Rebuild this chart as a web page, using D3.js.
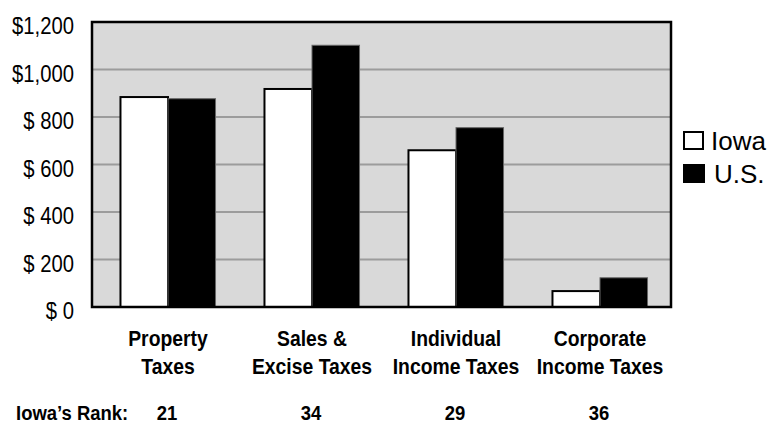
<!DOCTYPE html>
<html>
<head>
<meta charset="utf-8">
<script src="https://cdn.jsdelivr.net/npm/d3@7"></script>
<style>
  body { margin: 0; background: #fff; }
  text { font-family: "Liberation Sans", Arial, sans-serif; }
</style>
</head>
<body>
<div id="chart"></div>
<script>
// data
const categories = [["Property", "Taxes"], ["Sales &", "Excise Taxes"], ["Individual", "Income Taxes"], ["Corporate", "Income Taxes"]];
const series = ["Iowa", "U.S."];
const iowaValues = [884, 918, 660, 67];
const usValues = [877, 1102, 755, 123];
const ranks = [21, 34, 29, 36];
const yTicks = [0, 200, 400, 600, 800, 1000, 1200];

const width = 781, height = 425;
const plot = { left: 92, right: 671, top: 22, bottom: 307 };
const squeeze = 0.88;

const svg = d3.select("#chart").append("svg")
  .attr("width", width)
  .attr("height", height);

const y = d3.scaleLinear().domain([0, 1200]).range([plot.bottom, plot.top]);

const x0 = d3.scaleBand()
  .domain(d3.range(categories.length))
  .range([96, 672])
  .paddingInner(0.34)
  .paddingOuter(0.17);

const x1 = d3.scaleBand()
  .domain(series)
  .range([0, x0.bandwidth()]);

// plot background
svg.append("rect")
  .attr("x", plot.left).attr("y", plot.top)
  .attr("width", plot.right - plot.left)
  .attr("height", plot.bottom - plot.top)
  .attr("fill", "#d9d9d9");

// gridlines
svg.append("g")
  .selectAll("line")
  .data(yTicks.filter(d => d > 0 && d < 1200))
  .enter().append("line")
  .attr("x1", plot.left).attr("x2", plot.right)
  .attr("y1", d => y(d)).attr("y2", d => y(d))
  .attr("stroke", "#9c9c9c")
  .attr("stroke-width", 2);

// bars
const rows = categories.map((c, i) => [
  { key: "Iowa", value: iowaValues[i] },
  { key: "U.S.", value: usValues[i] }
]);

const groups = svg.append("g")
  .selectAll("g")
  .data(rows)
  .enter().append("g")
  .attr("transform", (d, i) => `translate(${x0(i)},0)`);

groups.selectAll("rect")
  .data(d => d)
  .enter().append("rect")
  .attr("x", d => x1(d.key))
  .attr("y", d => y(d.value))
  .attr("width", x1.bandwidth())
  .attr("height", d => y(0) - y(d.value))
  .attr("fill", d => d.key === "Iowa" ? "#fff" : "#000")
  .attr("stroke", d => d.key === "Iowa" ? "#000" : "#666")
  .attr("stroke-width", d => d.key === "Iowa" ? 2 : 1);

// frame
svg.append("rect")
  .attr("x", plot.left).attr("y", plot.top)
  .attr("width", plot.right - plot.left)
  .attr("height", plot.bottom - plot.top)
  .attr("fill", "none")
  .attr("stroke", "#000")
  .attr("stroke-width", 2.5);

// y axis labels
const fmt = d => d >= 1000 ? "$" + d3.format(",")(d) : "$ " + d;
const yAxis = svg.append("g")
  .attr("transform", "translate(74,0)")
  .call(d3.axisLeft(y).tickValues(yTicks).tickFormat(fmt).tickSize(0).tickPadding(0));
yAxis.select(".domain").remove();
yAxis.selectAll("text")
  .attr("x", 0)
  .attr("dy", "0.5em")
  .attr("transform", `scale(${squeeze},1)`)
  .attr("font-size", 23)
  .attr("font-family", "'Liberation Sans', Arial, sans-serif")
  .attr("fill", "#000");

// category labels
const catLabels = svg.append("g")
  .selectAll("text")
  .data(categories)
  .enter().append("text")
  .attr("transform", (d, i) => `translate(${x0(i) + x0.bandwidth() / 2},346) scale(${squeeze},1)`)
  .attr("text-anchor", "middle")
  .attr("font-size", 22)
  .attr("font-weight", "bold");
catLabels.append("tspan").attr("x", 0).attr("y", 0).text(d => d[0]);
catLabels.append("tspan").attr("x", 0).attr("y", 28).text(d => d[1]);

// rank row
svg.append("text")
  .attr("transform", `translate(16,420) scale(${squeeze},1)`)
  .attr("font-size", 21)
  .attr("font-weight", "bold")
  .text("Iowa’s Rank:");

svg.append("g")
  .selectAll("text")
  .data(ranks)
  .enter().append("text")
  .attr("transform", (d, i) => `translate(${x0(i) + x0.bandwidth() / 2 - 1},420) scale(${squeeze},1)`)
  .attr("text-anchor", "middle")
  .attr("font-size", 21)
  .attr("font-weight", "bold")
  .text(d => d);

// legend
const legend = svg.append("g")
  .selectAll("g")
  .data(series)
  .enter().append("g")
  .attr("transform", (d, i) => `translate(683,${131 + i * 33})`);

legend.append("rect")
  .attr("x", d => d === "Iowa" ? 1 : 0)
  .attr("y", d => d === "Iowa" ? 1 : 0)
  .attr("width", d => d === "Iowa" ? 19 : 22)
  .attr("height", d => d === "Iowa" ? 17 : 19)
  .attr("fill", d => d === "Iowa" ? "#fff" : "#000")
  .attr("stroke", "#000")
  .attr("stroke-width", d => d === "Iowa" ? 2 : 0);

legend.append("text")
  .attr("x", d => d === "Iowa" ? 28 : 31)
  .attr("y", 19)
  .attr("font-size", 26)
  .text(d => d);
</script>
</body>
</html>
